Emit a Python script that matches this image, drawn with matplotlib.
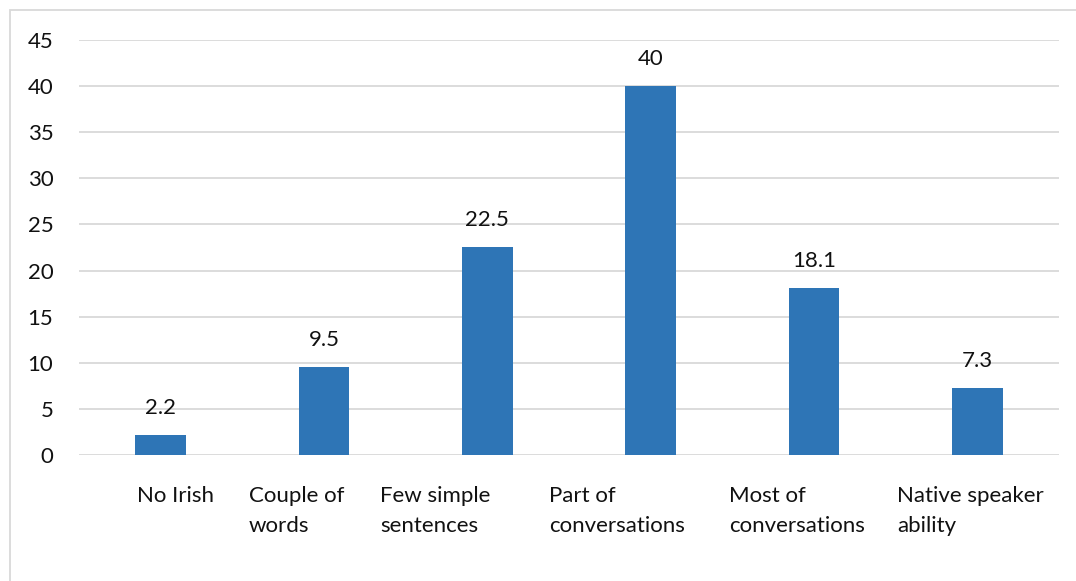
import matplotlib.pyplot as plt
from matplotlib.patches import Rectangle

# Irish speaking ability, % of respondents
categories = ["No Irish", "Couple of\nwords", "Few simple\nsentences",
              "Part of\nconversations", "Most of\nconversations",
              "Native speaker\nability"]
values = [2.2, 9.5, 22.5, 40, 18.1, 7.3]
yticks = [0, 5, 10, 15, 20, 25, 30, 35, 40, 45]

# where each wrapped category label starts, relative to its bar centre
label_shift = [-0.145, -0.459, -0.657, -0.622, -0.520, -0.492]

plt.rcParams['font.family'] = ['Lato', 'DejaVu Sans']
W, H = 1076, 581
fig = plt.figure(figsize=(W / 100, H / 100), dpi=100)
ax = fig.add_axes([79 / W, 126 / H, 980 / W, 415 / H])

x = list(range(len(categories)))
ax.bar(x, values, width=0.31, color='#2E75B6', zorder=3)

for xi, v in zip(x, values):
    ax.annotate(f"{v:g}", (xi, v), xytext=(0, 19.5), textcoords='offset points',
                ha='center', va='center', fontsize=16, color='#111111')

for xi, lab, dx in zip(x, categories, label_shift):
    ax.text(xi + dx, -0.075, lab, transform=ax.get_xaxis_transform(),
            ha='left', va='top', fontsize=16, linespacing=1.62, color='#111111')

ax.set_xlim(-0.5, len(categories) - 0.5)
ax.set_ylim(0, 45)
ax.set_yticks(yticks)
ax.set_xticks([])
ax.tick_params(axis='y', length=0, pad=18.5, labelsize=16, labelcolor='#111111')
ax.grid(axis='y', color='#D9D9D9', linewidth=1.3, zorder=0)
for s in ax.spines.values():
    s.set_visible(False)

# thin frame around the chart area
fig.add_artist(Rectangle((10 / W, -0.05), 1.1, 1.05 - 10 / H,
                         transform=fig.transFigure, fill=False,
                         edgecolor='#D9D9D9', linewidth=1.3))

fig.savefig('out.png', dpi=100)
